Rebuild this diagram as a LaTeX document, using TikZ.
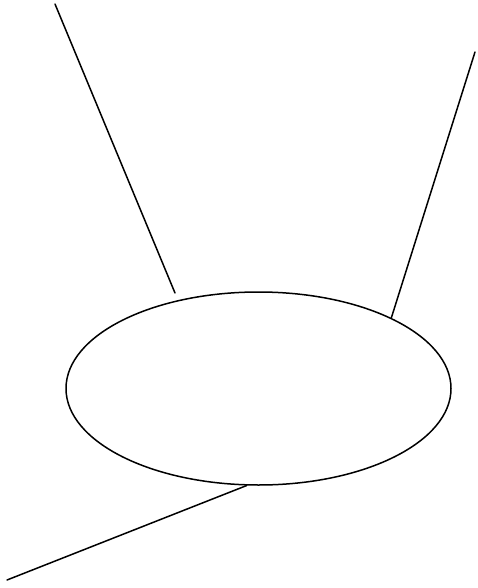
\documentclass[tikz,border=0pt]{standalone}
\usetikzlibrary{shapes.geometric}
\tikzset{
  blob/.style={ellipse, draw, line width=1.5pt, minimum width=385pt, minimum height=193pt, inner sep=0pt},
  ln/.style={line width=1.5pt, line cap=round}
}
\begin{document}
\begin{tikzpicture}[x=1pt, y=-1pt]
    \useasboundingbox (0,0) rectangle (478,588);
    \node[blob] (ell) at (258.5,388.5) {};
    \coordinate (tl) at (55,4);
    \coordinate (tlend) at (175,293);
    \coordinate (tr) at (475,52);
    \coordinate (bl) at (7,580);
    \draw[ln] (tl) -- (tlend);
    \draw[ln] (tr) -- (ell.28);
    \draw[ln] (ell.263) -- (bl);
\end{tikzpicture}
\end{document}
